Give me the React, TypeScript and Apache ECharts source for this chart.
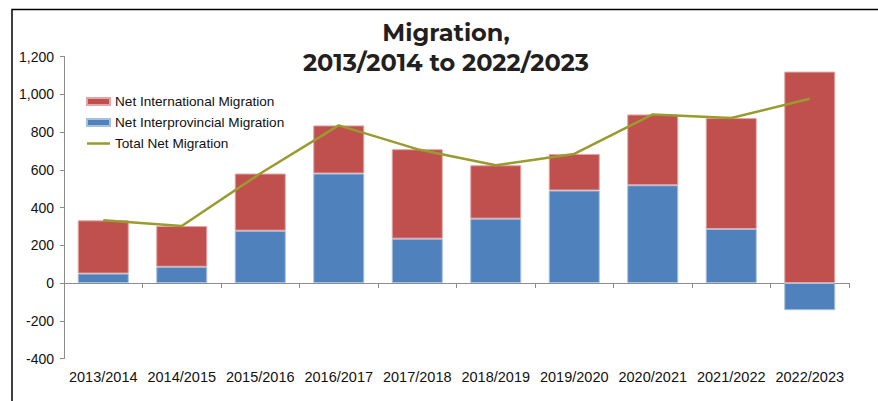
import React, { useEffect, useRef } from "react";
import * as echarts from "echarts";

const categories = [
  "2013/2014", "2014/2015", "2015/2016", "2016/2017", "2017/2018",
  "2018/2019", "2019/2020", "2020/2021", "2021/2022", "2022/2023",
];
const interprovincial = [50, 86, 277, 580, 235, 341, 490, 518, 286, -144];
const international = [282, 216, 303, 255, 474, 283, 194, 375, 588, 1120];
const totalNet = [332, 302, 580, 835, 709, 624, 684, 893, 874, 976];

const titleText = "Migration,\n2013/2014 to 2022/2023";
const RED = "#C0504D";
const BLUE = "#4F81BD";
const OLIVE = "#9A9A2E";
const FONT = "'Liberation Sans', Arial, sans-serif";
const LINE_ICON = "path://M0,0 L0.01,0 L0,0.01 Z M0,2.3 L23,2.3 L23,4.7 L0,4.7 Z M23,7 L22.99,7 L23,6.99 Z";

export default function App() {
  const ref = useRef<HTMLDivElement>(null);
  useEffect(() => {
    if (!ref.current) return;
    const chart = echarts.init(ref.current, undefined, { renderer: "svg" });
    chart.setOption({
      animation: false,
      backgroundColor: "#ffffff",
      textStyle: { fontFamily: FONT },
      title: {
        text: titleText,
        left: 446,
        textAlign: "center",
        top: 17,
        padding: 0,
        textStyle: {
          fontFamily: "Montserrat, 'Noto Sans', Lato, sans-serif",
          fontWeight: "bold",
          fontSize: 24,
          lineHeight: 30,
          color: "#231F20",
        },
      },
      graphic: [
        {
          type: "polyline",
          shape: { points: [[12, 401], [12, 9.5], [878, 9.5]] },
          style: { stroke: "#000", lineWidth: 1.5, fill: "none" },
          silent: true,
        },
      ],
      legend: {
        orient: "vertical",
        left: 86,
        top: 94,
        padding: 0,
        itemWidth: 23,
        itemHeight: 7,
        itemGap: 6,
        data: [
          { name: "Net International Migration", icon: "rect" },
          { name: "Net Interprovincial Migration", icon: "rect" },
          { name: "Total Net Migration", icon: LINE_ICON },
        ],
        textStyle: {
          fontSize: 13.6,
          lineHeight: 15,
          color: "#111",
          fontFamily: FONT,
        },
      },
      grid: { left: 64, right: 29, top: 56.5, bottom: 42.5, containLabel: false },
      xAxis: [
        {
          type: "category",
          data: categories,
          axisLine: { onZero: true, lineStyle: { color: "#8c8c8c", width: 1 } },
          axisTick: { show: true, length: 5, lineStyle: { color: "#8c8c8c" } },
          axisLabel: { show: false },
        },
        {
          type: "category",
          data: categories,
          position: "bottom",
          axisLine: { show: false, onZero: false },
          axisTick: { show: false },
          axisLabel: {
            show: true,
            interval: 0,
            margin: 11,
            fontSize: 14.5,
            color: "#111",
            fontFamily: FONT,
          },
        },
      ],
      yAxis: {
        type: "value",
        min: -400,
        max: 1200,
        interval: 200,
        splitLine: { show: false },
        axisLine: { show: true, lineStyle: { color: "#8c8c8c" } },
        axisTick: { show: true, length: 4, lineStyle: { color: "#8c8c8c" } },
        axisLabel: {
          fontSize: 14,
          color: "#111",
          margin: 10,
          fontFamily: FONT,
          formatter: (v: number) => v.toLocaleString("en-US"),
        },
      },
      series: [
        {
          name: "Net Interprovincial Migration",
          type: "bar",
          stack: "m",
          barWidth: "65%",
          data: interprovincial,
          itemStyle: { color: BLUE, borderColor: "#A7C0DE", borderWidth: 1 },
          xAxisIndex: 0,
        },
        {
          name: "Net International Migration",
          type: "bar",
          stack: "m",
          barWidth: "65%",
          data: international,
          itemStyle: { color: RED, borderColor: "#E2A6A4", borderWidth: 1 },
          xAxisIndex: 0,
        },
        {
          name: "Total Net Migration",
          type: "line",
          data: totalNet,
          symbol: "none",
          showSymbol: false,
          lineStyle: { color: OLIVE, width: 2.5 },
          itemStyle: { color: OLIVE },
          xAxisIndex: 0,
          z: 5,
        },
      ],
    });
    return () => chart.dispose();
  }, []);
  return <div ref={ref} style={{ width: 878, height: 401, position: "absolute", left: 0, top: 0 }} />;
}
